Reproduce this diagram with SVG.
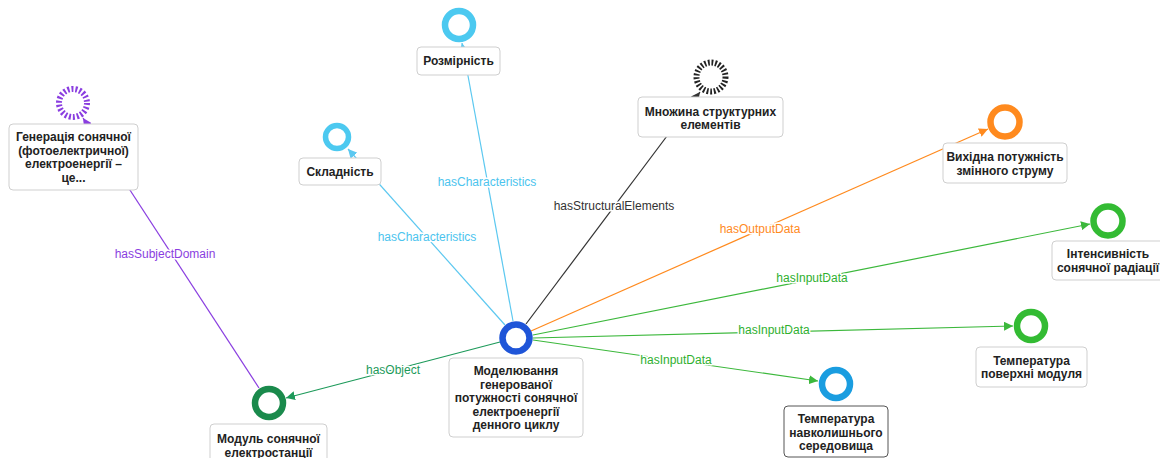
<svg xmlns="http://www.w3.org/2000/svg" width="1160" height="458" viewBox="0 0 1160 458">
<style>
.box{fill:#fff;stroke:#cfcfcf;stroke-width:1;}
.sel{stroke:#555;}
.t{font-family:"Liberation Sans",Arial,sans-serif;font-size:12px;font-weight:bold;fill:#222;text-anchor:middle;}
.lbl{font-family:"Liberation Sans",Arial,sans-serif;font-size:12px;text-anchor:middle;stroke:#fff;stroke-width:3px;paint-order:stroke;stroke-linejoin:round;}
.e{fill:none;stroke-width:1.2;}
.ring{fill:none;}
</style>
<defs>
<marker id="mPur" viewBox="0 0 10 10" refX="10" refY="5" markerWidth="9" markerHeight="9" markerUnits="userSpaceOnUse" orient="auto"><path d="M0,0 L10,5 L0,10 z" fill="#8a3ee0"/></marker>
<marker id="mDG" viewBox="0 0 10 10" refX="10" refY="5" markerWidth="9" markerHeight="9" markerUnits="userSpaceOnUse" orient="auto"><path d="M0,0 L10,5 L0,10 z" fill="#1d9a5a"/></marker>
<marker id="mLB" viewBox="0 0 10 10" refX="10" refY="5" markerWidth="9" markerHeight="9" markerUnits="userSpaceOnUse" orient="auto"><path d="M0,0 L10,5 L0,10 z" fill="#5cc8f0"/></marker>
<marker id="mBk" viewBox="0 0 10 10" refX="10" refY="5" markerWidth="9" markerHeight="9" markerUnits="userSpaceOnUse" orient="auto"><path d="M0,0 L10,5 L0,10 z" fill="#333"/></marker>
<marker id="mOr" viewBox="0 0 10 10" refX="10" refY="5" markerWidth="9" markerHeight="9" markerUnits="userSpaceOnUse" orient="auto"><path d="M0,0 L10,5 L0,10 z" fill="#ff8a1e"/></marker>
<marker id="mGr" viewBox="0 0 10 10" refX="10" refY="5" markerWidth="9" markerHeight="9" markerUnits="userSpaceOnUse" orient="auto"><path d="M0,0 L10,5 L0,10 z" fill="#3cb83c"/></marker>
</defs>
<rect width="1160" height="458" fill="#fff"/>
<g id="connectors">
<line class="e" x1="259" y1="388" x2="83" y2="118" stroke="#8a3ee0" marker-end="url(#mPur)"/>
<line class="e" x1="500" y1="342" x2="286" y2="398" stroke="#1d9a5a" marker-end="url(#mDG)"/>
<line class="e" x1="505" y1="325" x2="348" y2="149" stroke="#5cc8f0" marker-end="url(#mLB)"/>
<line class="e" x1="513" y1="321" x2="462" y2="43" stroke="#5cc8f0" marker-end="url(#mLB)"/>
<line class="e" x1="526" y1="324" x2="700" y2="92" stroke="#333" marker-end="url(#mBk)"/>
<line class="e" x1="531" y1="331" x2="988" y2="129" stroke="#ff8a1e" marker-end="url(#mOr)"/>
<line class="e" x1="533" y1="335" x2="1090" y2="224" stroke="#3cb83c" marker-end="url(#mGr)"/>
<line class="e" x1="533" y1="338" x2="1013" y2="326" stroke="#3cb83c" marker-end="url(#mGr)"/>
<line class="e" x1="533" y1="340" x2="818" y2="381" stroke="#3cb83c" marker-end="url(#mGr)"/>
<text class="lbl" x="165" y="258" fill="#8a3ee0">hasSubjectDomain</text>
<text class="lbl" x="393" y="374" fill="#1d9a5a">hasObject</text>
<text class="lbl" x="427" y="241" fill="#4cc4ee">hasCharacteristics</text>
<text class="lbl" x="487" y="186" fill="#4cc4ee">hasCharacteristics</text>
<text class="lbl" x="614" y="210" fill="#333">hasStructuralElements</text>
<text class="lbl" x="760" y="233" fill="#ff8a1e">hasOutputData</text>
<text class="lbl" x="812" y="282" fill="#2fb02f">hasInputData</text>
<text class="lbl" x="774" y="334" fill="#2fb02f">hasInputData</text>
<text class="lbl" x="676" y="364" fill="#2fb02f">hasInputData</text>
</g>
<g id="node-center">
<circle class="ring" cx="516" cy="338" r="13.5" stroke="#1f55d8" stroke-width="6.5"/>
<rect class="box" x="449" y="358" width="134" height="79" rx="4"/>
<text class="t" x="516" y="375">Моделювання</text>
<text class="t" x="516" y="388.5">генерованої</text>
<text class="t" x="516" y="402">потужності сонячної</text>
<text class="t" x="516" y="415.5">електроенергії</text>
<text class="t" x="516" y="429">денного циклу</text>
</g>
<g id="node-modul">
<circle class="ring" cx="269" cy="403" r="14" stroke="#1a8a4c" stroke-width="6.5"/>
<rect class="box" x="210" y="424" width="117" height="40" rx="4"/>
<text class="t" x="268.5" y="443">Модуль сонячної</text>
<text class="t" x="268.5" y="456.5">електростанції</text>
</g>
<g id="node-generation">
<circle class="ring" cx="73" cy="103" r="14" stroke="#8a3ee0" stroke-width="6" stroke-dasharray="2 2"/>
<rect class="box" x="9" y="124" width="129" height="66" rx="4"/>
<text class="t" x="73.5" y="141">Генерація сонячної</text>
<text class="t" x="73.5" y="154.5">(фотоелектричної)</text>
<text class="t" x="73.5" y="168">електроенергії –</text>
<text class="t" x="73.5" y="181.5">це...</text>
</g>
<g id="node-skladnist">
<circle class="ring" cx="337" cy="137" r="11.5" stroke="#4cc9f0" stroke-width="5.5"/>
<rect class="box" x="299" y="158" width="82" height="27" rx="4"/>
<text class="t" x="340" y="175.5">Складність</text>
</g>
<g id="node-rozmirnist">
<circle class="ring" cx="459" cy="25" r="14" stroke="#4cc9f0" stroke-width="6.5"/>
<rect class="box" x="417" y="47" width="83" height="28" rx="4"/>
<text class="t" x="458.5" y="65">Розмірність</text>
</g>
<g id="node-mnozhyna">
<circle class="ring" cx="711" cy="77" r="14.5" stroke="#222" stroke-width="6" stroke-dasharray="1.8 1.8"/>
<rect class="box" x="638" y="97" width="145" height="40" rx="4"/>
<text class="t" x="710.5" y="115.5">Множина структурних</text>
<text class="t" x="710.5" y="129">елементів</text>
</g>
<g id="node-vykhidna">
<circle class="ring" cx="1005" cy="122" r="14.5" stroke="#ff8a1e" stroke-width="6.5"/>
<rect class="box" x="943" y="143" width="124" height="40" rx="4"/>
<text class="t" x="1005" y="161">Вихідна потужність</text>
<text class="t" x="1005" y="174.5">змінного струму</text>
</g>
<g id="node-intensyvnist">
<circle class="ring" cx="1108" cy="221" r="14.5" stroke="#33bb33" stroke-width="6.5"/>
<rect class="box" x="1052" y="241" width="126" height="39" rx="4"/>
<text class="t" x="1108" y="258">Інтенсивність</text>
<text class="t" x="1108" y="271.5">сонячної радіації</text>
</g>
<g id="node-temp-surface">
<circle class="ring" cx="1031" cy="326" r="14" stroke="#33bb33" stroke-width="6.5"/>
<rect class="box" x="976" y="347" width="111" height="40" rx="4"/>
<text class="t" x="1031.5" y="364.5">Температура</text>
<text class="t" x="1031.5" y="378">поверхні модуля</text>
</g>
<g id="node-temp-ambient">
<circle class="ring" cx="836" cy="384" r="14" stroke="#1a9de0" stroke-width="6.5"/>
<rect class="box sel" x="784" y="406" width="104" height="51" rx="4"/>
<text class="t" x="836" y="423">Температура</text>
<text class="t" x="836" y="436.5">навколишнього</text>
<text class="t" x="836" y="450">середовища</text>
</g>
</svg>
